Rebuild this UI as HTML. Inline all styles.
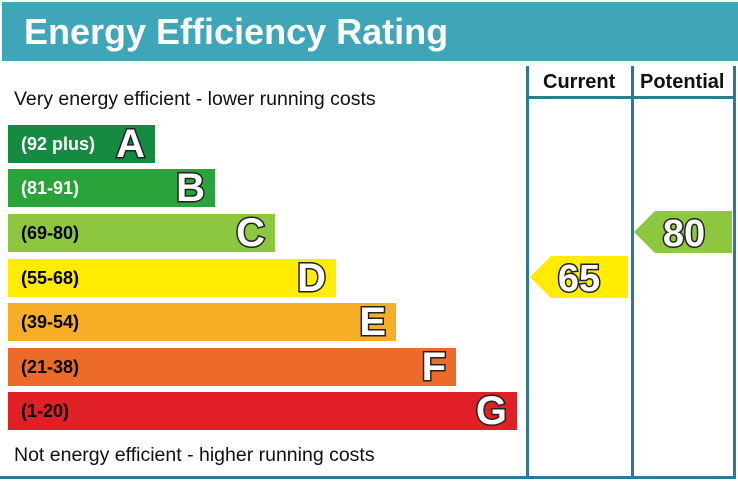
<!DOCTYPE html>
<html><head><meta charset="utf-8"><style>
*{margin:0;padding:0;box-sizing:border-box}
body{width:738px;height:483px;background:#fff;position:relative;overflow:hidden;font-family:"Liberation Sans",Arial,sans-serif}
.hdr{position:absolute;left:2px;top:2px;width:736px;height:59px;background:#3fa5b9}
.hdr span{position:absolute;left:22px;top:9px;color:#fff;font-weight:bold;font-size:36px}
.ln{position:absolute;background:#2d7b93}
.bar{position:absolute;left:8px;height:38px}
.bar .r{position:absolute;left:13px;top:9px;font-weight:bold;font-size:18px}
.L{position:absolute;right:10px;top:-3px;font-weight:bold;font-size:40px;color:#fff;-webkit-text-stroke:3px #222;paint-order:stroke fill}
.t{position:absolute;font-size:19.5px;color:#111}
.h{position:absolute;font-weight:bold;font-size:20px;color:#111;top:71px}
</style></head><body>
<div class="hdr"><span>Energy Efficiency Rating</span></div>
<div class="ln" style="left:526px;top:66px;width:3px;height:413px"></div>
<div class="ln" style="left:631px;top:66px;width:3px;height:413px"></div>
<div class="ln" style="left:733px;top:66px;width:3px;height:413px"></div>
<div class="ln" style="left:526px;top:96px;width:210px;height:3px"></div>
<div class="ln" style="left:0px;top:476px;width:736px;height:3px"></div>
<div class="h" style="left:543px">Current</div>
<div class="h" style="left:640px">Potential</div>
<div class="t" style="left:14px;top:88px">Very energy efficient - lower running costs</div>
<div class="t" style="left:14px;top:444px">Not energy efficient - higher running costs</div>
<div class="bar" style="top:125px;width:147px;background:#178a42"><span class="r" style="color:#fff">(92 plus)</span><span class="L">A</span></div>
<div class="bar" style="top:169px;width:207px;background:#2aa33a"><span class="r" style="color:#fff">(81-91)</span><span class="L">B</span></div>
<div class="bar" style="top:214px;width:267px;background:#8dc63f"><span class="r">(69-80)</span><span class="L">C</span></div>
<div class="bar" style="top:259px;width:328px;background:#ffec00"><span class="r">(55-68)</span><span class="L">D</span></div>
<div class="bar" style="top:303px;width:388px;background:#f7ad25"><span class="r">(39-54)</span><span class="L">E</span></div>
<div class="bar" style="top:348px;width:448px;background:#ec6b2a"><span class="r">(21-38)</span><span class="L">F</span></div>
<div class="bar" style="top:392px;width:509px;background:#e11f26"><span class="r">(1-20)</span><span class="L">G</span></div>
<svg style="position:absolute;left:0;top:0" width="738" height="483">
<polygon points="530,277 551,256 628,256 628,298 551,298" fill="#ffec00"/>
<polygon points="634,232 655,211 732,211 732,253 655,253" fill="#8dc63f"/>
<text x="579" y="291" text-anchor="middle" font-family="Liberation Sans" font-weight="bold" font-size="38" fill="#fff" stroke="#222" stroke-width="3" paint-order="stroke fill">65</text>
<text x="684" y="246" text-anchor="middle" font-family="Liberation Sans" font-weight="bold" font-size="38" fill="#fff" stroke="#222" stroke-width="3" paint-order="stroke fill">80</text>
</svg>
</body></html>
